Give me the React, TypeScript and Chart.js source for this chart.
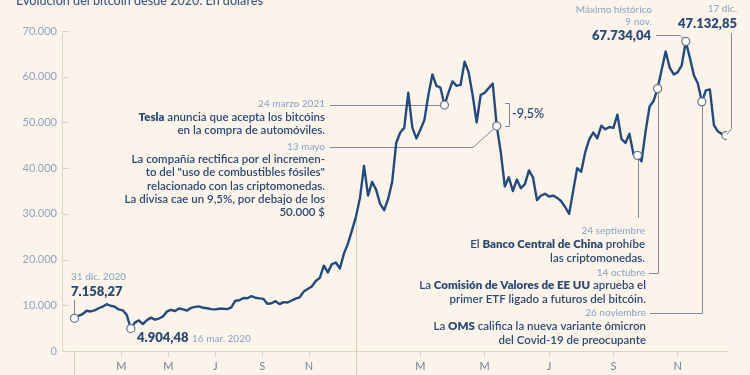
import React, { useEffect, useRef } from 'react';
import { Chart, registerables } from 'chart.js';

Chart.register(...registerables);

const W = 750;
const H = 375;
const FONT = 'Lato, "Open Sans", sans-serif';

const BG = '#fcf4eb';
const LINE_COLOR = '#234a7c';
const NAVY = '#2c4a75';
const LIGHT = '#8fa8c9';
const CONNECTOR = '#808995';
const AXIS = '#ddd2c6';
const SEPARATOR = '#d4cabe';
const TICK_TEXT = '#8ea4c2';
const MONTH_TEXT = '#6f8098';

const TITLE = 'Evolución del bitcoin desde 2020. En dólares';

// 2020: 70 samples spread evenly over the year (about every 5 days)
const prices2020 = [
  7158.27, 7700, 8050, 8800, 8650, 8900, 9350, 9700, 10250, 9900,
  9700, 9100, 8900, 7900, 4904.48, 6200, 6700, 5900, 6750, 7300,
  6850, 7100, 7550, 8650, 9000, 8750, 9300, 9100, 8850, 9450,
  9650, 9750, 9450, 9350, 9150, 9100, 9250, 9250, 9150, 9550,
  11000, 11100, 11600, 11550, 12000, 11650, 11500, 11400, 10300, 10450,
  10900, 10250, 10700, 10600, 11050, 11450, 11750, 13000, 13550, 14100,
  15300, 16000, 18650, 17200, 19000, 19350, 18050, 21300, 23500, 26400,
];

// 2021: 8 samples per month (about every 4 days), 1 Jan -> 17 Dec
const prices2021 = [
  29400, 33500, 40500, 34000, 37000, 35300, 32200, 30800, 33300, 37000,
  45500, 47800, 48800, 56500, 48900, 46500, 48400, 50500, 56000, 60500,
  58000, 57600, 53800, 56500, 59000, 58000, 58200, 63300, 61000, 56000,
  50000, 56000, 56500, 57500, 58500, 49200, 43500, 36000, 38000, 35000,
  37500, 35600, 36500, 39500, 38000, 33000, 34000, 34400, 33800, 34000,
  33500, 32800, 31500, 30000, 35000, 40000, 39200, 43500, 46300, 47800,
  46500, 49300, 48500, 49000, 48800, 51700, 46400, 45500, 47500, 43000,
  42800, 41500, 48000, 53500, 54700, 57400, 61500, 65500, 62000, 60500,
  61000, 62500, 67734.04, 64200, 60400, 58500, 54500, 57000, 57200, 49400,
  48000, 47500, 47132.85,
];

const SAMPLES_PER_MONTH_2021 = 8;

const yTickValues = [0, 10000, 20000, 30000, 40000, 50000, 60000, 70000];
const monthTickLabels = ['M', 'M', 'J', 'S', 'N'];
const monthTickMonths = [2, 4, 6, 8, 10];

// events: [year, sample index]
const EV_START: [number, number] = [2020, 0];
const EV_CRASH: [number, number] = [2020, 14];
const EV_TESLA: [number, number] = [2021, 22];
const EV_RECTIF: [number, number] = [2021, 35];
const EV_CHINA: [number, number] = [2021, 70];
const EV_SEC: [number, number] = [2021, 75];
const EV_MAX: [number, number] = [2021, 82];
const EV_OMICRON: [number, number] = [2021, 86];
const EV_LAST: [number, number] = [2021, 92];
const EVENTS = [EV_START, EV_CRASH, EV_TESLA, EV_RECTIF, EV_CHINA, EV_SEC, EV_MAX, EV_OMICRON, EV_LAST];

const slotOf = (e: [number, number]) => (e[0] === 2020 ? e[1] : prices2020.length + e[1]);
const valueOf = (e: [number, number]) => (e[0] === 2020 ? prices2020 : prices2021)[e[1]];

const lastSlot = prices2020.length + prices2021.length - 1;
const monthTickSlots = [
  ...monthTickMonths.map((m) => (m * prices2020.length) / 12),
  ...monthTickMonths.map((m) => prices2020.length + m * SAMPLES_PER_MONTH_2021),
];
const monthTickText = [...monthTickLabels, ...monthTickLabels];

const fmtThousands = (v: number) => String(v).replace(/\B(?=(\d{3})+(?!\d))/g, '.');

type Seg = { t: string; b?: boolean };
type TextItem = { x: number; y: number; align: 'left' | 'right'; size: number; color: string; segs: Seg[] };

const DATE = 10;
const BODY = 11.5;
const BIG = 13;

const TEXTS: TextItem[] = [
  { x: 71, y: 277, align: 'left', size: DATE, color: LIGHT, segs: [{ t: '31 dic. 2020' }] },
  { x: 71, y: 292, align: 'left', size: BIG, color: NAVY, segs: [{ t: '7.158,27', b: true }] },
  { x: 137, y: 338, align: 'left', size: BIG, color: NAVY, segs: [{ t: '4.904,48', b: true }] },
  { x: 192, y: 339, align: 'left', size: DATE, color: LIGHT, segs: [{ t: '16 mar. 2020' }] },
  { x: 325, y: 104, align: 'right', size: DATE, color: LIGHT, segs: [{ t: '24 marzo 2021' }] },
  { x: 325, y: 117, align: 'right', size: BODY, color: NAVY, segs: [{ t: 'Tesla', b: true }, { t: ' anuncia que acepta los bitcóins' }] },
  { x: 325, y: 130.5, align: 'right', size: BODY, color: NAVY, segs: [{ t: 'en la compra de automóviles.' }] },
  { x: 325, y: 147, align: 'right', size: DATE, color: LIGHT, segs: [{ t: '13 mayo' }] },
  { x: 325, y: 159.5, align: 'right', size: BODY, color: NAVY, segs: [{ t: 'La compañía rectifica por el incremen-' }] },
  { x: 325, y: 172.5, align: 'right', size: BODY, color: NAVY, segs: [{ t: 'to del "uso de combustibles fósiles"' }] },
  { x: 325, y: 186, align: 'right', size: BODY, color: NAVY, segs: [{ t: 'relacionado con las criptomonedas.' }] },
  { x: 325, y: 199, align: 'right', size: BODY, color: NAVY, segs: [{ t: 'La divisa cae un 9,5%, por debajo de los' }] },
  { x: 325, y: 212, align: 'right', size: BODY, color: NAVY, segs: [{ t: '50.000 $' }] },
  { x: 512, y: 114, align: 'left', size: 12.5, color: NAVY, segs: [{ t: '-9,5%' }] },
  { x: 652, y: 10, align: 'right', size: DATE, color: LIGHT, segs: [{ t: 'Máximo histórico' }] },
  { x: 652, y: 22, align: 'right', size: DATE, color: LIGHT, segs: [{ t: '9 nov.' }] },
  { x: 651, y: 36, align: 'right', size: BIG, color: NAVY, segs: [{ t: '67.734,04', b: true }] },
  { x: 737, y: 9, align: 'right', size: DATE, color: LIGHT, segs: [{ t: '17 dic.' }] },
  { x: 737, y: 24, align: 'right', size: BIG, color: NAVY, segs: [{ t: '47.132,85', b: true }] },
  { x: 645, y: 231, align: 'right', size: DATE, color: LIGHT, segs: [{ t: '24 septiembre' }] },
  { x: 645, y: 244, align: 'right', size: BODY, color: NAVY, segs: [{ t: 'El ' }, { t: 'Banco Central de China', b: true }, { t: ' prohíbe' }] },
  { x: 645, y: 258, align: 'right', size: BODY, color: NAVY, segs: [{ t: 'las criptomonedas.' }] },
  { x: 645, y: 273, align: 'right', size: DATE, color: LIGHT, segs: [{ t: '14 octubre' }] },
  { x: 646, y: 285, align: 'right', size: BODY, color: NAVY, segs: [{ t: 'La ' }, { t: 'Comisión de Valores de EE UU', b: true }, { t: ' aprueba el' }] },
  { x: 646, y: 299, align: 'right', size: BODY, color: NAVY, segs: [{ t: 'primer ETF ligado a futuros del bitcóin.' }] },
  { x: 646, y: 313, align: 'right', size: DATE, color: LIGHT, segs: [{ t: '26 noviembre' }] },
  { x: 646, y: 326, align: 'right', size: BODY, color: NAVY, segs: [{ t: 'La ' }, { t: 'OMS', b: true }, { t: ' califica la nueva variante ómicron' }] },
  { x: 646, y: 340, align: 'right', size: BODY, color: NAVY, segs: [{ t: 'del Covid-19 de preocupante' }] },
];

function drawRich(ctx: CanvasRenderingContext2D, it: TextItem) {
  const isDate = it.color === LIGHT;
  const fonts = it.segs.map((s) => `${s.b ? 800 : isDate ? 500 : 600} ${it.size}px ${FONT}`);
  const widths = it.segs.map((s, i) => {
    ctx.font = fonts[i];
    return ctx.measureText(s.t).width;
  });
  const total = widths.reduce((a, b) => a + b, 0);
  let cx = it.align === 'right' ? it.x - total : it.x;
  ctx.textAlign = 'left';
  ctx.textBaseline = 'middle';
  ctx.fillStyle = it.color;
  it.segs.forEach((s, i) => {
    ctx.font = fonts[i];
    ctx.fillText(s.t, cx, it.y);
    cx += widths[i];
  });
}

function poly(ctx: CanvasRenderingContext2D, pts: number[][]) {
  ctx.beginPath();
  pts.forEach((p, i) => (i === 0 ? ctx.moveTo(p[0], p[1]) : ctx.lineTo(p[0], p[1])));
  ctx.stroke();
}

const crisp = (v: number) => Math.round(v) + 0.5;

const annotationPlugin = {
  id: 'btcAnnotations',
  beforeDraw(chart: any) {
    const { ctx } = chart;
    ctx.save();
    ctx.fillStyle = BG;
    ctx.fillRect(0, 0, chart.width, chart.height);
    ctx.restore();
  },
  beforeDatasetsDraw(chart: any) {
    const { ctx, chartArea } = chart;
    const xs = chart.scales.x;
    const ys = chart.scales.y;
    const P = (e: [number, number]) => ({ x: xs.getPixelForValue(slotOf(e)), y: ys.getPixelForValue(valueOf(e)) });
    ctx.save();
    ctx.lineWidth = 1;
    // inner y ticks
    ctx.strokeStyle = AXIS;
    yTickValues.forEach((v) => {
      const py = crisp(ys.getPixelForValue(v));
      poly(ctx, [[chartArea.left, py], [chartArea.left + 7, py]]);
    });
    // year separators
    ctx.strokeStyle = SEPARATOR;
    const s20 = crisp(xs.getPixelForValue(0));
    poly(ctx, [[s20, chartArea.bottom], [s20, H]]);
    const s21 = crisp(xs.getPixelForValue(prices2020.length));
    poly(ctx, [[s21, ys.getPixelForValue(prices2021[0])], [s21, H]]);

    // connectors
    ctx.strokeStyle = CONNECTOR;
    const a = P(EV_START);
    poly(ctx, [[crisp(a.x), 300], [crisp(a.x), a.y]]);
    const t = P(EV_TESLA);
    poly(ctx, [[330, crisp(t.y)], [t.x, crisp(t.y)]]);
    const r = P(EV_RECTIF);
    poly(ctx, [[330, 147.5], [473, 147.5], [r.x, r.y]]);
    // -9,5% bracket
    poly(ctx, [[505, crisp(t.y) - 2], [509.5, crisp(t.y) - 2], [509.5, crisp(r.y)], [505, crisp(r.y)]]);
    const m = P(EV_MAX);
    poly(ctx, [[656, 35.5], [680, 35.5], [m.x, m.y]]);
    const l = P(EV_LAST);
    poly(ctx, [[731.5, 33], [731.5, l.y - 7], [l.x, l.y]]);
    const c = P(EV_CHINA);
    poly(ctx, [[crisp(c.x), c.y], [crisp(c.x), 218]]);
    const s = P(EV_SEC);
    poly(ctx, [[crisp(s.x), s.y], [crisp(s.x), 273.5], [649, 273.5]]);
    const o = P(EV_OMICRON);
    poly(ctx, [[650, 313.5], [crisp(o.x), 313.5], [crisp(o.x), o.y]]);
    ctx.restore();
  },
  afterDraw(chart: any) {
    const { ctx } = chart;
    ctx.save();
    ctx.font = `500 12.6px ${FONT}`;
    ctx.fillStyle = '#3b5985';
    ctx.textAlign = 'left';
    ctx.textBaseline = 'alphabetic';
    ctx.fillText(TITLE, 16, 5);
    TEXTS.forEach((it) => drawRich(ctx, it));
    ctx.restore();
  },
};

export default function App() {
  const ref = useRef<HTMLCanvasElement | null>(null);

  useEffect(() => {
    document.body.style.margin = '0';
    document.body.style.background = BG;
    if (!ref.current) return;

    const series = [
      ...prices2020.map((v, i) => ({ x: i, y: v })),
      ...prices2021.map((v, i) => ({ x: prices2020.length + i, y: v })),
    ];
    const markers = EVENTS.map((e) => ({ x: slotOf(e), y: valueOf(e) }));

    const chart = new Chart(ref.current, {
      type: 'line',
      data: {
        datasets: [
          {
            data: markers,
            showLine: false,
            pointRadius: 4,
            pointBackgroundColor: '#ffffff',
            pointBorderColor: '#6e7b8c',
            pointBorderWidth: 1.3,
            order: 0,
          },
          {
            data: series,
            borderColor: LINE_COLOR,
            borderWidth: 2.4,
            pointRadius: 0,
            tension: 0,
            borderJoinStyle: 'round',
            borderCapStyle: 'round',
            order: 1,
          },
        ],
      },
      options: {
        responsive: false,
        devicePixelRatio: 1,
        animation: false,
        events: [],
        layout: { padding: { top: 31, right: 23, left: 0, bottom: 0 } },
        plugins: { legend: { display: false }, tooltip: { enabled: false } },
        scales: {
          x: {
            type: 'linear',
            min: -3.1,
            max: lastSlot + 0.25,
            afterBuildTicks: (scale: any) => {
              scale.ticks = monthTickSlots.map((v) => ({ value: v }));
            },
            afterFit: (scale: any) => {
              scale.height = 24;
            },
            ticks: {
              autoSkip: false,
              maxRotation: 0,
              padding: 3,
              color: MONTH_TEXT,
              font: { family: FONT, size: 11 },
              callback: (_v: any, i: number) => monthTickText[i],
            },
            grid: { drawOnChartArea: false, drawTicks: true, tickLength: 6, color: AXIS, lineWidth: 1 },
            border: { display: true, color: AXIS, width: 1 },
          },
          y: {
            min: 0,
            max: 70000,
            afterBuildTicks: (scale: any) => {
              scale.ticks = yTickValues.map((v) => ({ value: v }));
            },
            afterFit: (scale: any) => {
              scale.width = 62;
            },
            ticks: {
              padding: 5,
              color: TICK_TEXT,
              font: { family: FONT, size: 11 },
              callback: (v: any) => fmtThousands(Number(v)),
            },
            grid: { drawOnChartArea: false, drawTicks: false },
            border: { display: true, color: AXIS, width: 1 },
          },
        },
      },
      plugins: [annotationPlugin],
    } as any);

    return () => chart.destroy();
  }, []);

  return (
    <div style={{ position: 'absolute', left: 0, top: 0, width: W, height: H, background: BG }}>
      <canvas ref={ref} width={W} height={H} style={{ display: 'block', width: W, height: H }} />
    </div>
  );
}
